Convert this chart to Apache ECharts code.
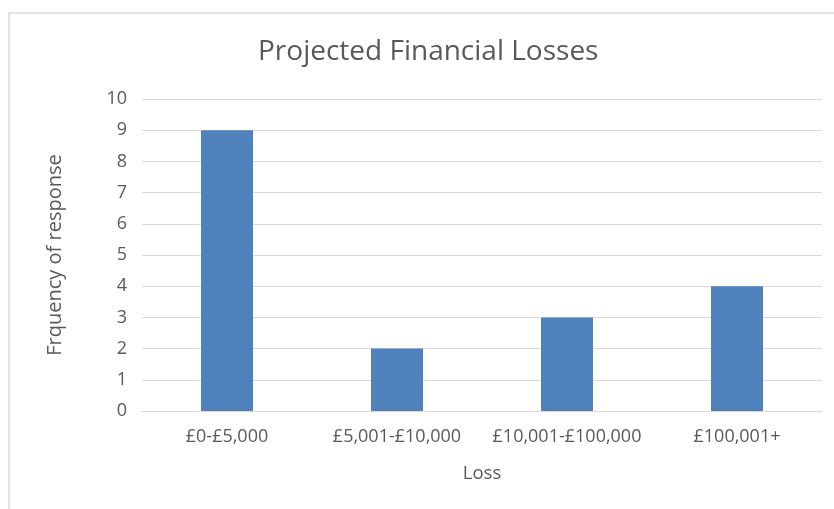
<!DOCTYPE html>
<html>
<head>
<meta charset="utf-8">
<script src="https://cdn.jsdelivr.net/npm/echarts@6/dist/echarts.min.js"></script>
<style>
  html, body { margin: 0; padding: 0; background: #fff; }
  #grafico { width: 834px; height: 509px; }
</style>
</head>
<body>
<div id="grafico"></div>
<script>
const categorias = ['£0-£5,000', '£5,001-£10,000', '£10,001-£100,000', '£100,001+'];
const frecuencias = [9, 2, 3, 4];
const textoGris = '#595959';
const fuente = 'Open Sans';

let chart = echarts.init(document.getElementById('grafico'));

let opciones = {
    animation: false,
    textStyle: { fontFamily: fuente },
    graphic: [{
        type: 'rect',
        shape: { x: 9, y: 13, width: 840, height: 510 },
        style: { fill: 'none', stroke: '#d9d9d9', lineWidth: 1.5 },
        silent: true
    }],
    title: {
        text: 'Projected Financial Losses',
        left: 253,
        top: 33,
        textStyle: { color: textoGris, fontSize: 28, fontWeight: 'normal', fontFamily: fuente }
    },
    grid: { left: 142, right: 12, top: 99, bottom: 98 },
    xAxis: {
        type: 'category',
        data: categorias,
        name: 'Loss',
        nameLocation: 'middle',
        nameGap: 53,
        nameTextStyle: { color: textoGris, fontSize: 18.5, fontFamily: fuente },
        axisLine: { lineStyle: { color: '#d9d9d9' } },
        axisTick: { show: false },
        axisLabel: { color: textoGris, fontSize: 18, margin: 17, interval: 0, fontFamily: fuente }
    },
    yAxis: {
        type: 'value',
        min: 0,
        max: 10,
        interval: 1,
        name: 'Frquency of response',
        nameLocation: 'middle',
        nameGap: 77,
        nameTextStyle: { color: textoGris, fontSize: 20, fontFamily: fuente },
        axisLine: { show: false },
        axisTick: { show: false },
        axisLabel: { color: textoGris, fontSize: 18, margin: 15, fontFamily: fuente },
        splitLine: { lineStyle: { color: '#d9d9d9' } }
    },
    series: [{
        type: 'bar',
        data: frecuencias,
        barWidth: 52,
        itemStyle: { color: '#4f81bd' }
    }]
};

chart.setOption(opciones);
</script>
</body>
</html>
